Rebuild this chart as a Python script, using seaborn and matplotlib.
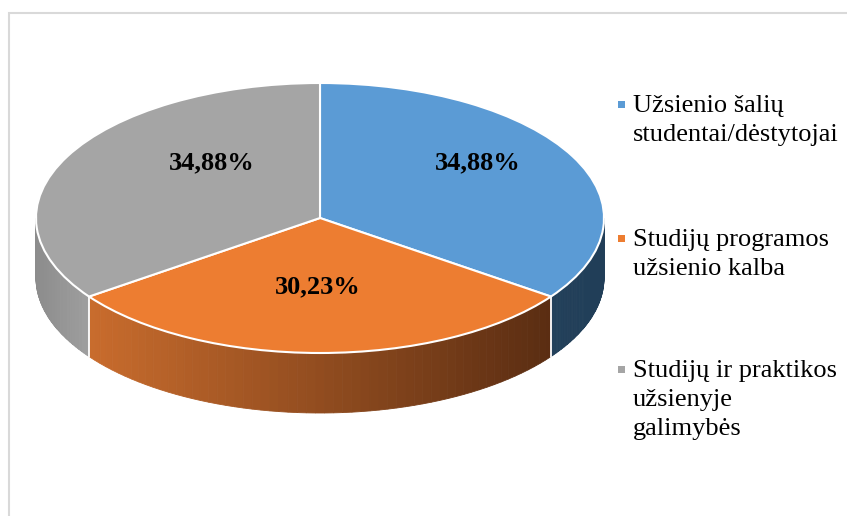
import numpy as np
import matplotlib
matplotlib.use('Agg')
import matplotlib.pyplot as plt
import matplotlib.colors as mcolors
from matplotlib.patches import Polygon, Rectangle
import seaborn as sns

# data
categories = ['Užsienio šalių\nstudentai/dėstytojai',
              'Studijų programos\nužsienio kalba',
              'Studijų ir praktikos\nužsienyje\ngalimybės']
shares = [34.88, 30.23, 34.88]
pct_labels = ['34,88%', '30,23%', '34,88%']
top_colors = ['#5B9BD5', '#ED7D31', '#A5A5A5']
# side wall shading (left colour, right colour)
side_colors = [('#22405A', '#213E58'), ('#C96C2D', '#5A2D12'), ('#8C8C8C', '#9E9E9E')]

sns.set_theme(style='white')
plt.rcParams['font.family'] = ['Liberation Serif', 'DejaVu Serif']

W, H = 847, 516
fig = plt.figure(figsize=(W / 100, H / 100), dpi=100)
ax = fig.add_axes([0, 0, 1, 1])

# pie geometry in pixels (centre, radii, depth of the 3d wall)
cx, cy, rx, ry, depth = 320, 218, 284, 135, 60
d = depth / ry

# top surface
wedges, _ = ax.pie(shares, colors=top_colors, startangle=90, counterclock=False,
                   wedgeprops=dict(edgecolor='white', linewidth=1.5, zorder=3))

# side walls, only the front half (-180..0 deg) is visible
bounds = 90 - 360 * np.cumsum([0] + shares) / sum(shares)
for i in range(len(shares)):
    a_hi, a_lo = bounds[i], bounds[i + 1]
    t0, t1 = max(a_lo, -180), min(a_hi, 0)
    if t1 <= t0:
        continue
    c_left = np.array(mcolors.to_rgb(side_colors[i][0]))
    c_right = np.array(mcolors.to_rgb(side_colors[i][1]))
    x_min, x_max = np.cos(np.radians(t0)), np.cos(np.radians(t1))
    edges = np.linspace(t0, t1, 60)
    for s0, s1 in zip(edges[:-1], edges[1:]):
        tt = np.radians(np.linspace(s0, s1, 4))
        xs, ys = np.cos(tt), np.sin(tt)
        pts = np.column_stack([np.r_[xs, xs[::-1]], np.r_[ys, ys[::-1] - d]])
        xm = np.cos(np.radians((s0 + s1) / 2))
        f = 0 if x_max == x_min else (xm - x_min) / (x_max - x_min)
        col = c_left + (c_right - c_left) * np.clip(f, 0, 1)
        ax.add_patch(Polygon(pts, closed=True, facecolor=col, edgecolor=col,
                             linewidth=0.6, zorder=1))

# white seams where slices meet on the wall
for a in bounds[1:-1]:
    if -180 < a < 0:
        t = np.radians(a)
        ax.plot([np.cos(t)] * 2, [np.sin(t), np.sin(t) - d], color='white', lw=1.3, zorder=2)

ax.set_aspect('auto')
ax.set_xlim((0 - cx) / rx, (W - cx) / rx)
ax.set_ylim((cy - H) / ry, cy / ry)
ax.axis('off')

# percentage labels, placed at the slice middle and nudged as in the source
mids = (bounds[:-1] + bounds[1:]) / 2
nudge = [(6, -18), (-2, -12), (43, -18)]
for lab, m, (nx, ny) in zip(pct_labels, mids, nudge):
    t = np.radians(m)
    x = 0.6 * np.cos(t) + nx / rx
    y = 0.6 * np.sin(t) - ny / ry
    ax.text(x, y, lab, ha='center', va='center', fontsize=19, fontweight='bold',
            color='black', zorder=5)

# legend drawn by hand so the square sits on the first text line
first_base = [112, 246, 377]
line_step = 29
for lab, col, b in zip(categories, top_colors, first_base):
    fig.patches.append(Rectangle((618 / W, 1 - (b - 4) / H), 7 / W, 7 / H,
                                 transform=fig.transFigure, facecolor=col,
                                 edgecolor='none'))
    for k, line in enumerate(lab.split('\n')):
        fig.text(633 / W, 1 - (b + k * line_step) / H, line, ha='left',
                 va='baseline', fontsize=19, color='black')

# light chart frame
fig.patches.append(Rectangle((8.5 / W, -0.1), 1.2, 1 - 12.5 / H + 0.1,
                             transform=fig.transFigure, fill=False,
                             edgecolor='#D9D9D9', linewidth=1.5))

fig.savefig('out.png', dpi=100, facecolor='white')
